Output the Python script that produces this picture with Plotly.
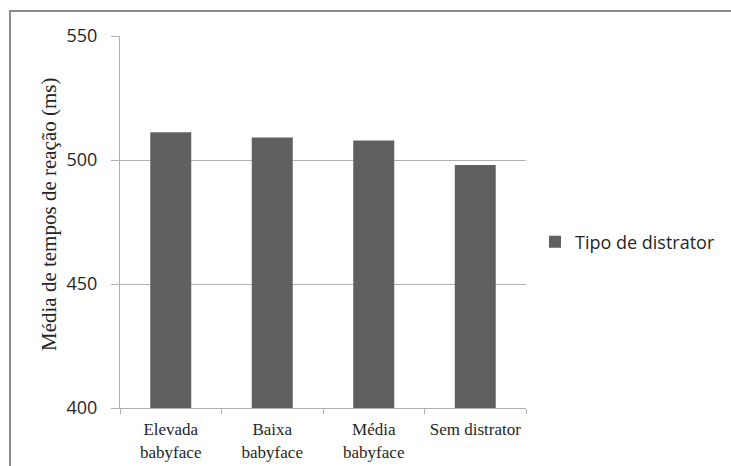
import plotly.graph_objects as go

# Reaction-time means by distractor type
categories = ["Elevada<br>babyface", "Baixa<br>babyface", "Média<br>babyface", "Sem distrator"]
mean_rt = [511.2, 509.1, 507.9, 498.0]
series_name = "Tipo de distrator"
y_ticks = [400, 450, 500, 550]

W, H = 731, 466
ML, MR, MT, MB = 120, 205, 36, 58
PW, PH = W - ML - MR, H - MT - MB


def px_x(x):
    return (x - ML) / PW


def px_y(y):
    return (H - MB - y) / PH


fig = go.Figure()
fig.add_trace(go.Bar(
    x=categories,
    y=mean_rt,
    name=series_name,
    marker=dict(color="#606060", line=dict(width=0)),
    showlegend=True,
))

grid_col = "#b0b0b0"
fig.update_layout(
    width=W, height=H,
    margin=dict(l=ML, r=MR, t=MT, b=MB, autoexpand=False),
    paper_bgcolor="white",
    plot_bgcolor="white",
    bargap=0.596,
    showlegend=True,
    legend=dict(
        x=px_x(535), y=px_y(242), xanchor="left", yanchor="middle",
        font=dict(family="Open Sans", size=18, color="#262626"),
        bgcolor="rgba(0,0,0,0)",
    ),
    xaxis=dict(
        type="category",
        automargin=False,
        showline=True, linecolor=grid_col, linewidth=1,
        ticks="outside", ticklen=5, tickcolor=grid_col, tickson="boundaries",
        ticklabelstandoff=6,
        showgrid=False,
        tickfont=dict(family="Liberation Serif", size=17, color="#262626"),
    ),
    yaxis=dict(
        range=[400, 550],
        automargin=False,
        tickvals=y_ticks,
        showline=True, linecolor=grid_col, linewidth=1,
        ticks="outside", ticklen=8, tickcolor=grid_col,
        ticklabelstandoff=10,
        showgrid=True, gridcolor=grid_col, gridwidth=1,
        zeroline=False,
        tickfont=dict(family="Open Sans", size=18, color="#262626"),
    ),
    annotations=[dict(
        text="Média de tempos de reação (ms)",
        x=px_x(49), y=px_y(215), xref="paper", yref="paper",
        xanchor="center", yanchor="middle", textangle=-90,
        showarrow=False,
        font=dict(family="Liberation Serif", size=21, color="#262626"),
    )],
    shapes=[dict(
        type="rect", xref="paper", yref="paper",
        x0=px_x(10), x1=px_x(740), y0=px_y(480), y1=px_y(11),
        line=dict(color="#8c8c8c", width=2), fillcolor="rgba(0,0,0,0)",
        layer="below",
    )],
)

fig.write_html("out.html")
